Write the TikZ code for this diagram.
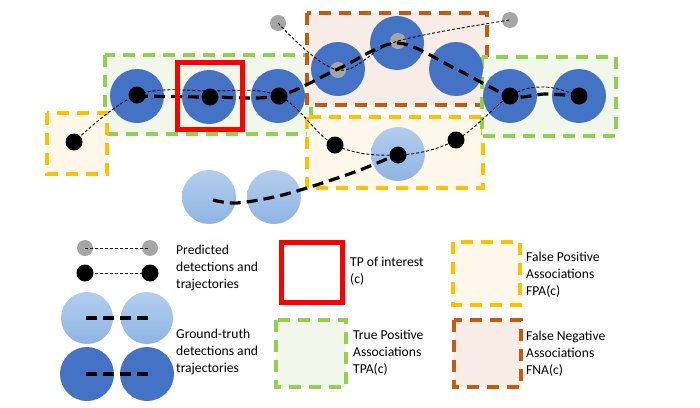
\documentclass[tikz,border=0pt]{standalone}
\usepackage{fontspec}
\setmainfont{Carlito}
\usetikzlibrary{positioning}
\definecolor{gtdark}{HTML}{4472C4}
\definecolor{gtlighttop}{HTML}{B2CEEE}
\definecolor{gtlightbot}{HTML}{8FB4E3}
\definecolor{tpagreen}{HTML}{92D050}
\definecolor{tpafill}{HTML}{F2F7EB}
\definecolor{fpayellow}{HTML}{FFC000}
\definecolor{fpafill}{HTML}{FFF8EA}
\definecolor{fnaorange}{HTML}{C55A11}
\definecolor{fnafill}{HTML}{F8ECE7}
\definecolor{predgray}{HTML}{A6A6A6}

\begin{document}
\begin{tikzpicture}[
  x=1pt, y=-1pt,
  every node/.style={inner sep=0},
  gtdarkc/.style={circle,fill=gtdark,minimum size=54},
  gtlightc/.style={circle,top color=gtlighttop,bottom color=gtlightbot,minimum size=54},
  det/.style={circle,fill=black,minimum size=17},
  detgray/.style={circle,fill=predgray,minimum size=16},
  predline/.style={dash pattern=on 3pt off 2pt,line width=0.9pt},
  gtline/.style={dash pattern=on 11pt off 6pt,line width=3.2pt},
  tpabox/.style={draw=tpagreen,fill=tpafill,line width=3.5pt,dash pattern=on 12pt off 8pt},
  fpabox/.style={draw=fpayellow,fill=fpafill,line width=3.5pt,dash pattern=on 12pt off 8pt},
  fnabox/.style={draw=fnaorange,fill=fnafill,line width=3.5pt,dash pattern=on 12pt off 8pt},
  tpbox/.style={draw=red,line width=5pt},
  legtext/.style={anchor=west,align=left,font=\fontsize{13.6}{16.8}\selectfont}
  ]
  \useasboundingbox (0,0) rectangle (700,407);

  % association boxes
  \draw[tpabox] (105,55) rectangle (311,134);
  \draw[fpabox] (47,113) rectangle (107,174);
  \draw[fnabox] (307,13) rectangle (487,105);
  \draw[fpabox] (307,117) rectangle (483,188);
  \draw[tpabox] (482,57) rectangle (616,136);

  % ground-truth detections
  \node[gtdarkc] (g1) at (137,96) {};
  \node[gtdarkc] (g2) at (209,97) {};
  \node[gtdarkc] (g3) at (278,96) {};
  \node[gtdarkc] (g4) at (338,69) {};
  \node[gtdarkc] (g5) at (397,43) {};
  \node[gtdarkc] (g6) at (456,69) {};
  \node[gtdarkc] (g7) at (510,96) {};
  \node[gtdarkc] (g8) at (579,96) {};
  \node[gtlightc] (l1) at (209,197) {};
  \node[gtlightc] (l2) at (274,197) {};
  \node[gtlightc] (l3) at (398,154) {};

  % predicted detections
  \node[det] (p1) at (74,142) {};
  \node[det] (p2) at (137,95) {};
  \node[det] (p3) at (210,97) {};
  \node[det] (p4) at (279,96) {};
  \node[det] (p5) at (335,145) {};
  \node[det] (p6) at (398,155) {};
  \node[det] (p7) at (456,140) {};
  \node[det] (p8) at (510,96) {};
  \node[det] (p9) at (579,96) {};
  \node[detgray] (q1) at (278,23) {};
  \node[detgray] (q2) at (338,70) {};
  \node[detgray] (q3) at (398,41) {};
  \node[detgray] (q4) at (510,20) {};

  % trajectories
  \draw[predline] plot[smooth,tension=0.6] coordinates {(p1.center) (p2.center) (210,91) (p4.center) (p5.center) (p6.center) (p7.center) (p8.center) (545,87) (p9.center)};
  \draw[predline] plot[smooth,tension=0.6] coordinates {(q1.center) (q2.center) (q3.center) (q4.center)};
  \draw[gtline] plot[smooth,tension=0.5] coordinates {(g1.center) (g2.center) (g3.center) (g4.center) (g5.center) (g6.center) (g7.center) (545,94) (g8.center)};
  \draw[gtline] plot[smooth,tension=0.6] coordinates {(213,200) (236,203) (l2.center) (310,187) (360,170) (l3.center)};

  \draw[tpbox] (177,62) rectangle (242,129);

  % legend
  \node[detgray] (lq1) at (85,248) {};
  \node[detgray] (lq2) at (150,248) {};
  \draw[predline] (lq1.center) -- (lq2.center);
  \node[det] (lp1) at (85,273) {};
  \node[det] (lp2) at (150,273) {};
  \draw[predline] (lp1.center) -- (lp2.center);
  \node[gtlightc,minimum size=52] (ll1) at (87,318) {};
  \node[gtlightc,minimum size=52] (ll2) at (147,318) {};
  \draw[gtline] (86,318) -- (148,318);
  \node[gtdarkc] (lg1) at (87,374) {};
  \node[gtdarkc] (lg2) at (147,374) {};
  \draw[gtline] (86,374) -- (148,374);
  \node[legtext] (predtxt) at (176,268) {Predicted\\detections and\\trajectories};
  \node[legtext] (gttxt) at (176,352) {Ground-truth\\detections and\\trajectories};

  \draw[tpbox] (281,242) rectangle (342,302);
  \node[legtext] (tptxt) at (350,271) {TP of interest\\(c)};
  \draw[tpabox] (276,320) rectangle (346,387);
  \node[legtext] (tpatxt) at (353,353) {True Positive\\Associations\\TPA(c)};
  \draw[fpabox] (453,242) rectangle (520,305);
  \node[legtext] (fpatxt) at (526,275) {False Positive\\Associations\\FPA(c)};
  \draw[fnabox] (454,320) rectangle (521,387);
  \node[legtext] (fnatxt) at (526,354) {False Negative\\Associations\\FNA(c)};
\end{tikzpicture}
\end{document}
